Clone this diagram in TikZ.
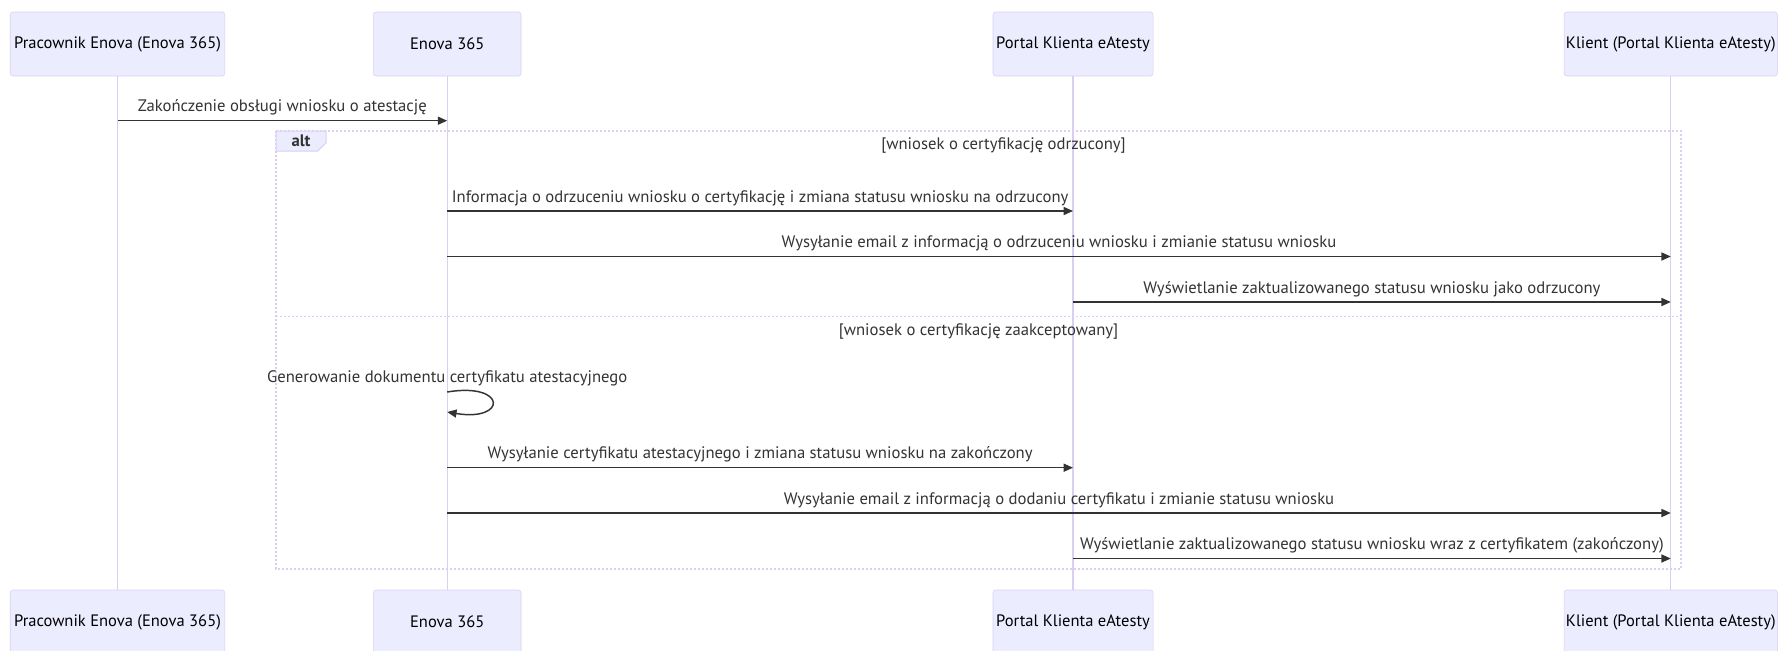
\documentclass[tikz,border=0pt]{standalone}
\usepackage{fontspec}
\setmainfont{PT Sans}
\usetikzlibrary{arrows.meta}
\definecolor{partyfill}{HTML}{ECECFF}
\definecolor{partyline}{HTML}{DACEF3}
\definecolor{msgcol}{HTML}{333333}

\begin{document}
\begin{tikzpicture}[x=0.75pt,y=-0.75pt,
    party/.style={rectangle, draw=partyline, fill=partyfill, rounded corners=2pt, minimum height=48pt, minimum width=#1, inner sep=0pt, font=\fontsize{12.4}{14}\selectfont},
    life/.style={draw=partyline, line width=1pt},
    msg/.style={draw=msgcol, line width=1.1pt, -{Triangle[length=7pt,width=6pt]}},
    lbl/.style={text=msgcol, font=\fontsize{12.5}{14}\selectfont, inner sep=0pt, anchor=base},
    frame/.style={draw=partyline, line width=1pt, dash pattern=on 1.5pt off 1.5pt}]
  \useasboundingbox (0,0) rectangle (1780,650);

  \node[party=160.9pt] (pe) at (117.5,44) {Pracownik Enova (Enova 365)};
  \node[party=110.7pt] (en) at (447.2,44) {Enova 365};
  \node[party=120pt] (po) at (1073,44) {Portal Klienta eAtesty};
  \node[party=160.1pt] (kl) at (1670.8,44) {Klient (Portal Klienta eAtesty)};

  \node[party=160.9pt] (peb) at (117.5,622) {Pracownik Enova (Enova 365)};
  \node[party=110.7pt] (enb) at (447.2,622) {Enova 365};
  \node[party=120pt] (pob) at (1073,622) {Portal Klienta eAtesty};
  \node[party=160.1pt] (klb) at (1670.8,622) {Klient (Portal Klienta eAtesty)};

  \draw[life] (pe) -- (peb);
  \draw[life] (en) -- (enb);
  \draw[life] (po) -- (pob);
  \draw[life] (kl) -- (klb);

  \coordinate (r1) at (0,120.7);
  \coordinate (r2) at (0,211);
  \coordinate (r3) at (0,256.5);
  \coordinate (r4) at (0,302);
  \coordinate (r5) at (0,392);
  \coordinate (r5e) at (0,412);
  \coordinate (r6) at (0,467.7);
  \coordinate (r7) at (0,513);
  \coordinate (r8) at (0,558.5);

  \draw[frame] (276,131) rectangle (1681,569);
  \draw[frame] (276,316.7) -- (1681,316.7);
  \draw[draw=partyline, fill=partyfill, line width=0.75pt] (276,131) -- (326,131) -- (326,143) -- (317.6,151) -- (276,151) -- cycle;
  \node[lbl, font=\fontsize{12.5}{14}\selectfont\bfseries] (alttag) at (301,146) {alt};
  \node[lbl] (cond1) at (1003.5,149.3) {[wniosek o certyfikację odrzucony]};
  \node[lbl] (cond2) at (978.5,335) {[wniosek o certyfikację zaakceptowany]};

  \draw[msg] (pe |- r1) -- (en |- r1) node[lbl, midway, yshift=6.75pt] {Zakończenie obsługi wniosku o atestację};
  \draw[msg] (en |- r2) -- (po |- r2) node[lbl, midway, yshift=6.75pt] {Informacja o odrzuceniu wniosku o certyfikację i zmiana statusu wniosku na odrzucony};
  \draw[msg] (en |- r3) -- (kl |- r3) node[lbl, midway, yshift=6.75pt] {Wysyłanie email z informacją o odrzuceniu wniosku i zmianie statusu wniosku};
  \draw[msg] (po |- r4) -- (kl |- r4) node[lbl, midway, yshift=6.75pt] {Wyświetlanie zaktualizowanego statusu wniosku jako odrzucony};

  \node[lbl] (selfmsg) at (447.2,382) {Generowanie dokumentu certyfikatu atestacyjnego};
  \draw[msg] (en |- r5) .. controls (507.2,382) and (507.2,422) .. (en |- r5e);

  \draw[msg] (en |- r6) -- (po |- r6) node[lbl, midway, yshift=6.75pt] {Wysyłanie certyfikatu atestacyjnego i zmiana statusu wniosku na zakończony};
  \draw[msg] (en |- r7) -- (kl |- r7) node[lbl, midway, yshift=6.75pt] {Wysyłanie email z informacją o dodaniu certyfikatu i zmianie statusu wniosku};
  \draw[msg] (po |- r8) -- (kl |- r8) node[lbl, midway, yshift=6.75pt] {Wyświetlanie zaktualizowanego statusu wniosku wraz z certyfikatem (zakończony)};
\end{tikzpicture}
\end{document}
